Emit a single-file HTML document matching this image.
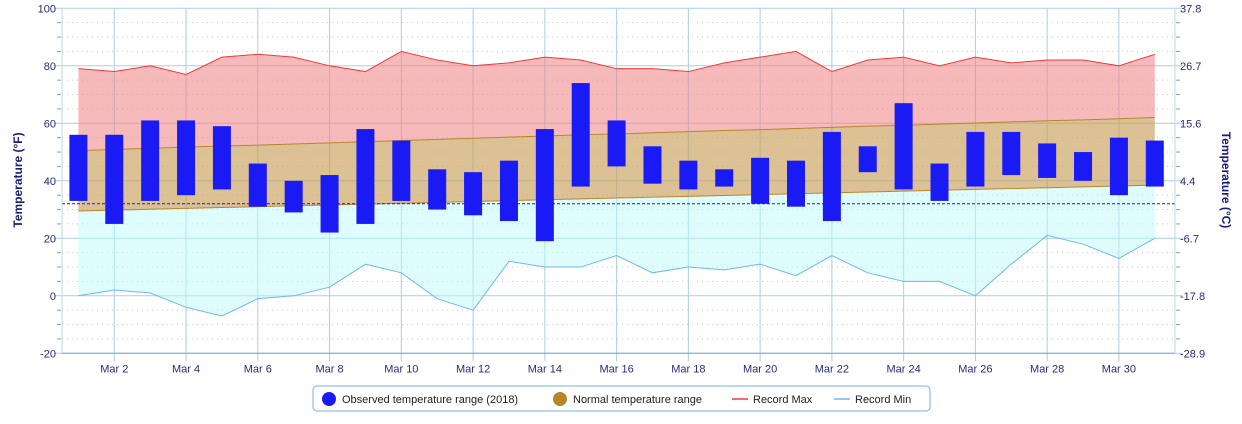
<!DOCTYPE html>
<html><head><meta charset="utf-8"><style>
body{margin:0;background:#fff;font-family:"Liberation Sans",sans-serif}
svg text{font-family:"Liberation Sans",sans-serif}
</style></head><body>
<svg id="c" width="1242" height="419" xmlns="http://www.w3.org/2000/svg"></svg>
<script>
const days=[1,2,3,4,5,6,7,8,9,10,11,12,13,14,15,16,17,18,19,20,21,22,23,24,25,26,27,28,29,30,31];
const obsHigh=[56,56,61,61,59,46,40,42,58,54,44,43,47,58,74,61,52,47,44,48,47,57,52,67,46,57,57,53,50,55,54];
const obsLow=[33,25,33,35,37,31,29,22,25,33,30,28,26,19,38,45,39,37,38,32,31,26,43,37,33,38,42,41,40,35,38];
const normHigh=[50.5,50.9,51.3,51.7,52.1,52.4,52.8,53.2,53.6,54,54.4,54.8,55.2,55.6,56,56.3,56.7,57.1,57.5,57.8,58.2,58.6,59,59.3,59.7,60.1,60.5,60.9,61.2,61.6,62];
const normLow=[29.5,29.8,30.1,30.4,30.7,31,31.3,31.6,31.9,32.2,32.5,32.8,33.1,33.4,33.7,34,34.3,34.6,34.9,35.2,35.5,35.8,36.1,36.4,36.7,37,37.3,37.6,37.9,38.2,38.5];
const recMax=[79,78,80,77,83,84,83,80,78,85,82,80,81,83,82,79,79,78,81,83,85,78,82,83,80,83,81,82,82,80,84];
const recMin=[0,2,1,-4,-7,-1,0,3,11,8,-1,-5,12,10,10,14,8,10,9,11,7,14,8,5,5,0,11,21,18,13,20];
const yTicks=[-20,0,20,40,60,80,100];
const cTicks=["-28.9","-17.8","-6.7","4.4","15.6","26.7","37.8"];
const freezing=32;

const L=62,R=1175,T=8.3,B=353.3;
const x=i=>78.4+35.88*i;
const y=v=>T+(100-v)*(B-T)/120;
const svg=document.getElementById('c');
const NS='http://www.w3.org/2000/svg';
function mk(tag,attrs,parent){const e=document.createElementNS(NS,tag);for(const k in attrs)e.setAttribute(k,attrs[k]);(parent||svg).appendChild(e);return e;}

// minor grid
for(let v=-15;v<100;v+=5){if(v%20===0)continue;
 const g=mk('line',{x1:L,x2:R,y1:y(v),y2:y(v),stroke:'#ccc','stroke-dasharray':'1,4'});
 
 const t=mk('line',{x1:L-5,x2:L-1,y1:y(v),y2:y(v),stroke:'#999'});
 
 const t2=mk('line',{x1:R+1,x2:R+5,y1:y(v),y2:y(v),stroke:'#999'});
 }
// major grid
yTicks.forEach((v,k)=>{
 const g=mk('line',{x1:L-8,x2:R+8,y1:y(v),y2:y(v),stroke:'#a9cfe6'});
 
 const t=mk('text',{x:L-6,y:y(v)+4,'text-anchor':'end','font-size':11,fill:'#2a2a7a'});t.textContent=v;
 
 const t2=mk('text',{x:R+5,y:y(v)+4,'font-size':11,fill:'#2a2a7a'});t2.textContent=(k===0?'':'')+cTicks[k];
 
});
for(let i=1;i<days.length;i+=2){
 const g=mk('line',{x1:x(i),x2:x(i),y1:T,y2:B+8,stroke:'#a9cfe6'});
 
 const t=mk('text',{x:x(i),y:B+19,'text-anchor':'middle','font-size':11,fill:'#2a2a7a'});t.textContent='Mar '+days[i];
 
}
function pts(a){return a.map((v,i)=>x(i)+','+y(v));}
function area(top,bot,fill,name){
 const d='M'+pts(top).join('L')+'L'+pts(bot).reverse().join('L')+'Z';
 const p=mk('path',{d:d,fill:fill});}
area(recMax,normHigh,'rgba(240,130,130,0.55)','record-max-area');
area(normLow,recMin,'rgba(190,250,250,0.5)','record-min-area');
area(normHigh,normLow,'rgba(200,160,90,0.65)','normal-range-area');
let l=mk('polyline',{points:pts(normHigh).join(' '),fill:'none',stroke:'#b8862a','stroke-width':1});

l=mk('polyline',{points:pts(normLow).join(' '),fill:'none',stroke:'#b8862a','stroke-width':1});

l=mk('polyline',{points:pts(recMax).join(' '),fill:'none',stroke:'#f03a3a','stroke-width':1});

l=mk('polyline',{points:pts(recMin).join(' '),fill:'none',stroke:'#6fb8ee','stroke-width':1});

l=mk('line',{x1:L,x2:R,y1:y(freezing),y2:y(freezing),stroke:'#1a1ac8','stroke-dasharray':'3,2'});

days.forEach((d,i)=>{
 const r=mk('rect',{x:x(i)-9,y:y(obsHigh[i]),width:18,height:y(obsLow[i])-y(obsHigh[i]),fill:'#1a1af5'});
 
});
l=mk('line',{x1:L,x2:R,y1:B,y2:B,stroke:'#6aa8d8'});
l=mk('line',{x1:L,x2:L,y1:T,y2:B,stroke:'#c0d8ea'});
l=mk('line',{x1:R,x2:R,y1:T,y2:B,stroke:'#c0d8ea'});
let t=mk('text',{x:0,y:0,transform:'translate(22,180) rotate(-90)','text-anchor':'middle','font-size':12,'font-weight':'bold',fill:'#1a1a7a'});t.textContent='Temperature (°F)';

t=mk('text',{x:0,y:0,transform:'translate(1222,180) rotate(90)','text-anchor':'middle','font-size':12,'font-weight':'bold',fill:'#1a1a7a'});t.textContent='Temperature (°C)';

// legend
const lg=mk('g',{});
let b=mk('rect',{x:313,y:386,width:617,height:25,rx:4,fill:'#fff',stroke:'#7ab0d8'},lg);

const items=[['circle','#1a1af5','Observed temperature range (2018)',329],['circle','#b8862a','Normal temperature range',560],['line','#f03a3a','Record Max',740],['line','#6fb8ee','Record Min',842]];
items.forEach(it=>{
 const g=mk('g',{},lg);
 if(it[0]==='circle')mk('circle',{cx:it[3],cy:399,r:7,fill:it[1]},g);
 else mk('line',{x1:it[3]-8,x2:it[3]+8,y1:399,y2:399,stroke:it[1],'stroke-width':1.5},g);
 const tx=mk('text',{x:it[3]+13,y:403,'font-size':11,fill:'#222'},g);tx.textContent=it[2];
});
</script>
</body></html>
